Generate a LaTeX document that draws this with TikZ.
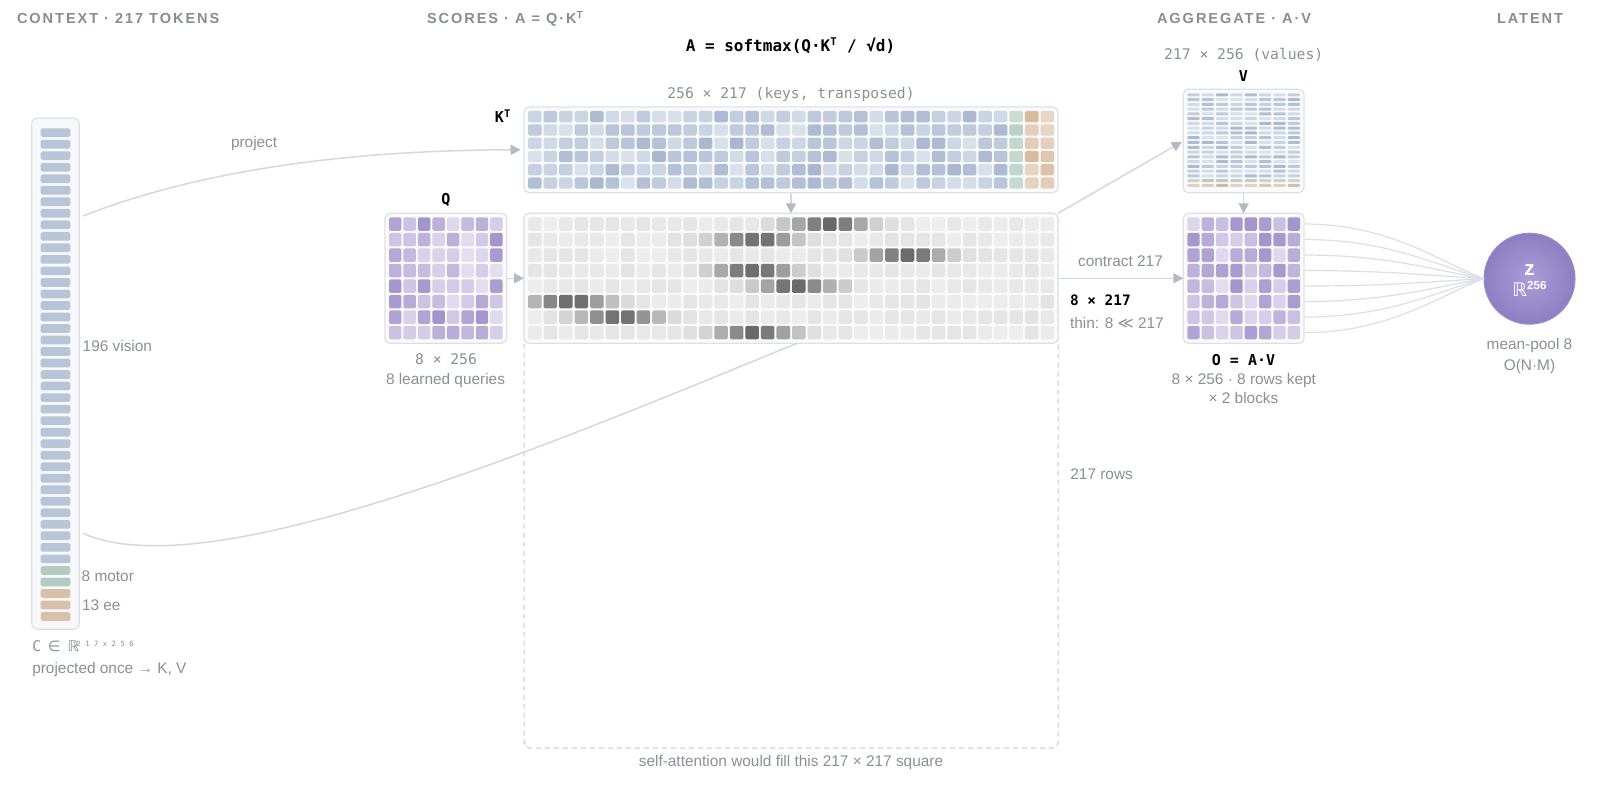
\documentclass[tikz,border=0pt]{standalone}
\usepackage{fontspec}
\setmainfont{Liberation Sans}
\newfontfamily\mono{DejaVu Sans Mono}
\newfontfamily\djv{DejaVu Sans}
\newfontfamily\hdrfont[LetterSpace=13.5]{Liberation Sans}
\usetikzlibrary{arrows.meta,fit}
\definecolor{txtgray}{HTML}{8A8F99}
\definecolor{hdrgray}{HTML}{878C96}
\definecolor{linegray}{HTML}{D3D7DE}
\definecolor{headgray}{HTML}{B4B9C2}
\definecolor{boxborder}{HTML}{DDE1E7}
\definecolor{boxfill}{HTML}{FAFBFC}
\definecolor{ctxfill}{HTML}{F7F8FA}
\definecolor{kb}{HTML}{A8B7CF}
\definecolor{kg}{HTML}{B3CCC0}
\definecolor{ktan}{HTML}{D5B698}
\definecolor{qp}{HTML}{A393CB}
\definecolor{dashgray}{HTML}{C3C7CE}
\definecolor{fanline}{HTML}{DCDFE5}
\definecolor{zin}{HTML}{AA9DD8}
\definecolor{zout}{HTML}{8D7EC2}
\definecolor{zring}{HTML}{9A8DCD}
\definecolor{ctxb}{HTML}{B8C5D8}
\definecolor{ctxg}{HTML}{B3CBC0}
\definecolor{ctxt}{HTML}{D9C0A8}
\newcommand\supT{\textsuperscript{T}}
\newcommand\msup[1]{\makebox[6.62pt][l]{\raisebox{3.75pt}{\fontsize{5.4}{6}\selectfont #1}}}
\begin{document}
\begin{tikzpicture}[x=0.75pt,y=-0.75pt,
  every node/.style={inner sep=0pt, outer sep=0pt},
  lbl/.style={font=\fontsize{11.55}{13}\selectfont, text=txtgray},
  dimlbl/.style={font=\mono\fontsize{11}{13}\selectfont, text=txtgray},
  mlab/.style={font=\mono\bfseries\fontsize{11.25}{13}\selectfont, text=black},
  hdr/.style={font=\hdrfont\bfseries\fontsize{10.9}{12}\selectfont, text=hdrgray, anchor=base west},
  boxst/.style={draw=boxborder, fill=boxfill, line width=0.9pt, rounded corners=3.75pt, inner sep=0pt},
  conn/.style={draw=linegray, line width=1.1pt},
  arrowst/.style={-{Triangle[length=7.5pt,width=7.5pt,color=headgray,fill=headgray]}},
  fan/.style={draw=fanline, line width=0.9pt},
]
\pgfmathsetseed{4242}
\fill[white] (0,0) rectangle (1600,787);
\useasboundingbox (0,0) rectangle (1600,787);

% headers
\node[hdr] (h1) at (17,24) {CONTEXT · 217 TOKENS};
\node[hdr] (h2) at (427,24) {SCORES · A = Q·K\supT};
\node[hdr] (h3) at (1157,24) {AGGREGATE · A·V};
\node[hdr] (h4) at (1497,24) {LATENT};

% formula and dimension labels
\node[mlab, font=\mono\bfseries\fontsize{12}{14}\selectfont, anchor=base] (formula) at (790.5,51.5) {A = softmax(Q·K\supT{} / √d)};
\node[dimlbl, anchor=base] (ktdim) at (791,98.5) {256 × 217 (keys, transposed)};
\node[dimlbl, anchor=base] (vdim) at (1243.7,59.5) {217 × 256 (values)};

% dashed self-attention square
\node[draw=dashgray, dash pattern=on 3.75pt off 3pt, line width=0.75pt, rounded corners=3.75pt, fit={(524,213.3) (1058,748)}] (sq) {};

% boxes
\node[boxst, fill=ctxfill, rounded corners=4.5pt, fit={(31.7,118) (79.3,629.3)}] (ctx) {};
\node[boxst, fit={(524,107) (1058,192.7)}] (kt) {};
\node[boxst, fit={(524,213.3) (1058,343.3)}] (sc) {};
\node[boxst, fit={(385,213.3) (506.7,343.3)}] (q) {};
\node[boxst, fit={(1183.3,89.3) (1304,192.7)}] (v) {};
\node[boxst, fit={(1183.3,213.3) (1304,343.3)}] (o) {};

% context bars
\foreach \i in {0,...,42}{
  \pgfmathsetmacro\yy{128.3+\i*11.52}
  \ifnum\i<38 \def\cc{ctxb}\else\ifnum\i<40 \def\cc{ctxg}\else\def\cc{ctxt}\fi\fi
  \fill[fill=\cc, rounded corners=1.2pt] (40.7,\yy) rectangle ++(29.6,8.7);
}

% K^T cells
\foreach \c in {0,...,33}{
  \foreach \r in {0,...,5}{
    \pgfmathsetmacro\xx{528+\c*15.53}
    \pgfmathsetmacro\yy{111+\r*13.28}
    \ifnum\c<31 \def\cc{kb}\pgfmathtruncatemacro\X{42+58*rnd}\else
      \ifnum\c<32 \def\cc{kg}\pgfmathtruncatemacro\X{60+40*rnd}\else
        \def\cc{ktan}\pgfmathtruncatemacro\X{55+45*rnd}\fi\fi
    \fill[fill=\cc!\X!white, rounded corners=1.1pt] (\xx,\yy) rectangle ++(13.53,11.28);
  }
}

% scores cells
\foreach \r/\cen in {0/19,1/14.3,2/24,3/14.1,4/16.8,5/2.3,6/5.5,7/14.2}{
  \foreach \c in {0,...,33}{
    \pgfmathsetmacro\xx{528+\c*15.53}
    \pgfmathsetmacro\yy{217.3+\r*15.5}
    \pgfmathsetmacro\dd{min(abs(\c-\cen),6)}
    \pgfmathtruncatemacro\P{7.5+49*exp(0-\dd*\dd/6.25)+3.5*rnd}
    \fill[fill=black!\P!white, rounded corners=1.1pt] (\xx,\yy) rectangle ++(13.53,13.5);
  }
}

% Q cells
\foreach \c in {0,...,7}{
  \foreach \r in {0,...,7}{
    \pgfmathsetmacro\xx{389+\c*14.46}
    \pgfmathsetmacro\yy{217.3+\r*15.5}
    \pgfmathtruncatemacro\X{30+70*rnd}
    \fill[fill=qp!\X!white, rounded corners=1.1pt] (\xx,\yy) rectangle ++(12.46,13.5);
  }
}

% O cells
\foreach \c in {0,...,7}{
  \foreach \r in {0,...,7}{
    \pgfmathsetmacro\xx{1187.3+\c*14.34}
    \pgfmathsetmacro\yy{217.3+\r*15.5}
    \pgfmathtruncatemacro\X{30+70*rnd}
    \fill[fill=qp!\X!white, rounded corners=1.1pt] (\xx,\yy) rectangle ++(12.34,13.5);
  }
}

% V bars
\foreach \c in {0,...,7}{
  \foreach \r in {0,...,19}{
    \pgfmathsetmacro\xx{1187.3+\c*14.34}
    \pgfmathsetmacro\yy{93.3+\r*4.77}
    \ifnum\r<18 \def\cc{kb}\pgfmathtruncatemacro\X{38+62*rnd}\else
      \ifnum\r<19 \def\cc{kg}\pgfmathtruncatemacro\X{65+35*rnd}\else
        \def\cc{ktan}\pgfmathtruncatemacro\X{55+45*rnd}\fi\fi
    \fill[fill=\cc!\X!white, rounded corners=0.7pt] (\xx,\yy) rectangle ++(12.34,3.0);
  }
}

% connectors
\coordinate (ctxA) at (83,216);
\coordinate (ctxB) at (83,533.3);
\coordinate (scB) at (797,343.3);
\draw[conn, arrowst, shorten >=2.5pt] (ctxA) .. controls (200,170) and (350,150) .. (kt.west);
\draw[conn] (ctxB) .. controls (210,590) and (560,440) .. (scB);
\draw[conn, arrowst] (q.east) -- (sc.west);
\draw[conn, arrowst] (kt.south) -- (sc.north);
\draw[conn, arrowst] (sc.east) -- (o.west);
\draw[conn, arrowst] (v.south) -- (o.north);
\draw[conn, arrowst, shorten >=1.2pt] (sc.north east) -- (v.west);

% latent
\node[circle, minimum size=68.25pt, draw=zring, line width=0.75pt, inner color=zin, outer color=zout] (z) at (1529.5,278.7) {};
\foreach \r in {0,...,7}{
  \pgfmathsetmacro\yy{224.05+\r*15.5}
  \pgfmathsetmacro\yc{278.7+(\yy-278.7)*0.3}
  \draw[fan] (1305,\yy) .. controls (1390,\yy) and (1440,\yc) .. (z.west);
}
\node[font=\bfseries\fontsize{15.5}{16}\selectfont, text=white, anchor=base] (zz) at (1529.5,276) {z};
\node[text=white, anchor=base] (zr) at (1529.5,297) {{\djv\fontsize{14}{14}\selectfont ℝ}\raisebox{5.6pt}{\bfseries\fontsize{8.7}{9}\selectfont 256}};

% labels
\node[mlab, anchor=base east] (ktl) at (511,123) {K\supT};
\node[lbl, anchor=base west] (projl) at (231,147.5) {project};
\node[mlab, anchor=base] (ql) at (446,204.5) {Q};
\node[dimlbl, anchor=base] (qd) at (446,365) {8 × 256};
\node[lbl, anchor=base] (qd2) at (445.5,385) {8 learned queries};
\node[lbl, anchor=base west] (vis) at (82.7,352) {196 vision};
\node[lbl, anchor=base west] (mot) at (81.7,582) {8 motor};
\node[lbl, anchor=base west] (ee) at (82,610.5) {13 ee};
\node[dimlbl, anchor=base west] (cdef) at (32.3,651.5) {C \makebox[6.62pt][c]{\djv ∈} \makebox[6.62pt][l]{\djv ℝ}\msup2\msup1\msup7\msup{x}\msup2\msup5\msup6};
\node[lbl, anchor=base west] (cproj) at (32.3,673) {projected once → K, V};
\node[lbl, anchor=base] (sql) at (791,766) {self-attention would fill this 217 × 217 square};
\node[lbl, anchor=base west] (rows) at (1070.4,479.5) {217 rows};
\node[lbl, anchor=base] (contr) at (1120.5,266.5) {contract 217};
\node[mlab, font=\mono\bfseries\fontsize{10.8}{13}\selectfont, anchor=base west] (thin1) at (1070,306) {8 × 217};
\node[lbl, anchor=base west] (thin2) at (1070,329) {thin: 8 {\djv ≪} 217};
\node[mlab, anchor=base] (vl) at (1243.5,81.5) {V};
\node[mlab, anchor=base] (ol) at (1243.5,365.5) {O = A·V};
\node[lbl, anchor=base] (od1) at (1243.8,385) {8 × 256 · 8 rows kept};
\node[lbl, anchor=base] (od2) at (1243.5,403.5) {× 2 blocks};
\node[lbl, anchor=base] (mp1) at (1529.5,350) {mean-pool 8};
\node[lbl, anchor=base] (mp2) at (1529.5,370.5) {O(N·M)};
\end{tikzpicture}
\end{document}
